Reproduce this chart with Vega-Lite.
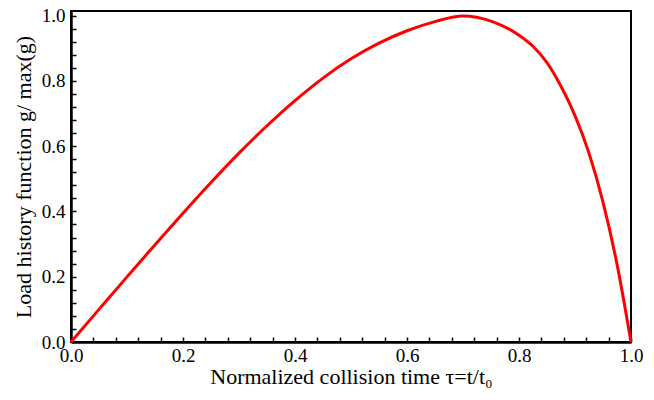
{
  "$schema": "https://vega.github.io/schema/vega-lite/v6.json",
  "autosize": "none",
  "width": 560,
  "height": 331,
  "padding": {"left": 71, "top": 11, "right": 23, "bottom": 58},
  "background": "white",
  "config": {
    "view": {"stroke": "black", "strokeWidth": 2},
    "font": "Liberation Serif",
    "axis": {
      "labelFont": "Liberation Serif",
      "titleFont": "Liberation Serif",
      "labelFontSize": 19,
      "titleFontSize": 22,
      "labelColor": "black",
      "titleColor": "black",
      "titleFontWeight": "normal",
      "domainColor": "black",
      "domainWidth": 2.5,
      "tickColor": "black",
      "tickWidth": 1.5,
      "tickSize": -5,
      "grid": false,
      "labelFlush": false,
      "labelOverlap": false,
      "zindex": 1
    }
  },
  "data": {
    "values": [
      {"tau": 0.0, "g": 0.0},
      {"tau": 0.05, "g": 0.1},
      {"tau": 0.1, "g": 0.1995},
      {"tau": 0.15, "g": 0.298},
      {"tau": 0.2, "g": 0.3945},
      {"tau": 0.25, "g": 0.4885},
      {"tau": 0.3, "g": 0.5785},
      {"tau": 0.35, "g": 0.6625},
      {"tau": 0.4, "g": 0.7395},
      {"tau": 0.45, "g": 0.8085},
      {"tau": 0.5, "g": 0.8675},
      {"tau": 0.55, "g": 0.9155},
      {"tau": 0.6, "g": 0.9535},
      {"tau": 0.65, "g": 0.9815},
      {"tau": 0.7, "g": 0.9985},
      {"tau": 0.75, "g": 0.983},
      {"tau": 0.8, "g": 0.94},
      {"tau": 0.825, "g": 0.906},
      {"tau": 0.85, "g": 0.856},
      {"tau": 0.875, "g": 0.7835},
      {"tau": 0.9, "g": 0.6935},
      {"tau": 0.925, "g": 0.5785},
      {"tau": 0.95, "g": 0.4285},
      {"tau": 0.975, "g": 0.2385},
      {"tau": 1.0, "g": 0.0}
    ]
  },
  "mark": {"type": "line", "color": "#ff0000", "strokeWidth": 3, "interpolate": "monotone", "clip": false},
  "encoding": {
    "x": {
      "field": "tau",
      "type": "quantitative",
      "scale": {"domain": [0, 1], "nice": false, "zero": false},
      "axis": {
        "title": "Normalized collision time τ=t/t₀",
        "values": [0,0.04,0.08,0.12,0.16,0.2,0.24,0.28,0.32,0.36,0.4,0.44,0.48,0.52,0.56,0.6,0.64,0.68,0.72,0.76,0.8,0.84,0.88,0.92,0.96,1.0],
        "labelExpr": "abs(round(datum.value*5) - datum.value*5) < 0.001 ? format(datum.value, '.1f') : ''",
        "labelPadding": 9,
        "titlePadding": 1
      }
    },
    "y": {
      "field": "g",
      "type": "quantitative",
      "scale": {"domain": [0, 1.014], "nice": false, "zero": false},
      "axis": {
        "title": "Load history function g/ max(g)",
        "values": [0,0.04,0.08,0.12,0.16,0.2,0.24,0.28,0.32,0.36,0.4,0.44,0.48,0.52,0.56,0.6,0.64,0.68,0.72,0.76,0.8,0.84,0.88,0.92,0.96,1.0],
        "labelExpr": "abs(round(datum.value*5) - datum.value*5) < 0.001 ? format(datum.value, '.1f') : ''",
        "labelPadding": 11,
        "titlePadding": 6
      }
    }
  }
}
